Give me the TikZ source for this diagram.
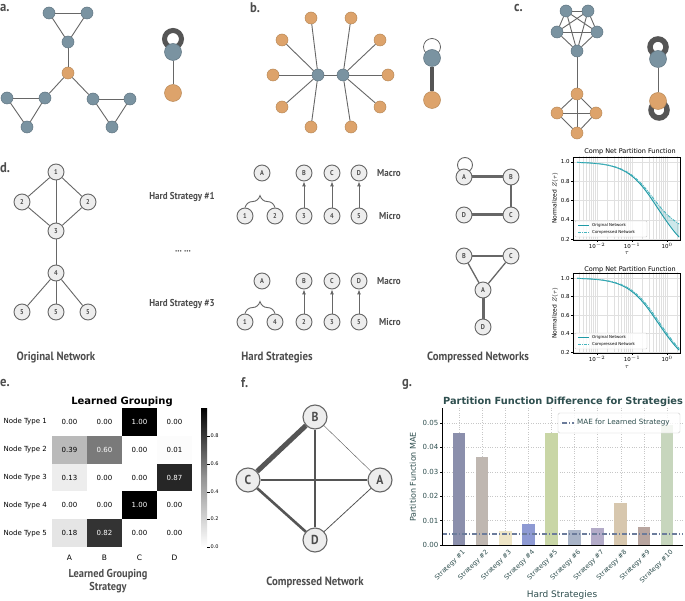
\documentclass[tikz,border=0pt]{standalone}
\usepackage{fontspec}
\setmainfont{DejaVu Sans}
\newfontfamily\dinfont[FakeStretch=0.9]{PT Sans}
\usetikzlibrary{arrows.meta,decorations.pathreplacing}

\newcommand\fsz[1]{\fontsize{#1}{#1}\selectfont}

\definecolor{nblue}{HTML}{7A93A1}
\definecolor{nbluedk}{HTML}{5F7481}
\definecolor{norange}{HTML}{DDA36B}
\definecolor{norangedk}{HTML}{B98957}
\definecolor{egrey}{HTML}{676767}
\definecolor{rgrey}{HTML}{555555}
\definecolor{lgrey}{HTML}{EDEDED}
\definecolor{labgrey}{HTML}{4D4D4D}
\definecolor{slate}{HTML}{2F4F4F}
\definecolor{zteal}{HTML}{1F9AA6}
\definecolor{zteallt}{HTML}{45B4BE}
\definecolor{maeline}{HTML}{6C7C9B}
\definecolor{gbar1}{HTML}{8B8FAC}
\definecolor{gbar2}{HTML}{BFB7B1}
\definecolor{gbar3}{HTML}{EEE5C6}
\definecolor{gbar4}{HTML}{8E9AD3}
\definecolor{gbar5}{HTML}{C9D6A6}
\definecolor{gbar6}{HTML}{A9B4C7}
\definecolor{gbar7}{HTML}{B3ABC8}
\definecolor{gbar8}{HTML}{D7C7AE}
\definecolor{gbar9}{HTML}{B8A59F}
\definecolor{gbar10}{HTML}{C7D6BD}

\tikzset{
  declare function={
    zo(\s)=0.1*(1+exp(-0.3*\s)+exp(-0.6*\s)+exp(-0.8*\s)+2*exp(-\s)+exp(-1.5*\s)+exp(-3*\s)+exp(-4*\s)+exp(-5*\s));
    zc(\s)=0.25*(1+exp(-0.4*\s)+exp(-2*\s)+exp(-4*\s));
    zd(\s)=zo(0.9*\s);},
  bnode/.style={circle,draw=nbluedk,fill=nblue,line width=0.5pt,minimum size=12pt,inner sep=0pt},
  onode/.style={circle,draw=norangedk,fill=norange,line width=0.5pt,minimum size=12pt,inner sep=0pt},
  big/.style={minimum size=17pt},
  link/.style={draw=egrey,line width=0.9pt},
  ring/.style={draw=rgrey,line width=5pt},
  num/.style={circle,draw=egrey,fill=lgrey,line width=0.9pt,minimum size=16pt,inner sep=0pt,font=\dinfont\fsz{7}\bfseries,text=labgrey},
  bignum/.style={num,minimum size=24pt,line width=1.1pt,font=\dinfont\fsz{13}\bfseries},
  panlab/.style={anchor=west,inner sep=0pt,font=\dinfont\fsz{14}\bfseries,text=labgrey},
  capt/.style={font=\dinfont\fsz{12}\bfseries,text=labgrey},
  hard/.style={font=\dinfont\fsz{10}\bfseries,text=labgrey},
  macmic/.style={anchor=west,inner sep=0pt,font=\dinfont\fsz{10}\bfseries,text=labgrey},
  uparrow/.style={draw=egrey,line width=0.9pt,-{Latex[length=5pt,width=4pt]}},
  brc/.style={draw=egrey,line width=0.9pt,decorate,decoration={brace,amplitude=12pt}},
  pgrid/.style={draw=black!12,line width=0.25pt},
  ggrid/.style={draw=black!22,line width=0.4pt,dotted},
  cell/.style={minimum width=35pt,minimum height=27.8pt,inner sep=0pt,font=\fsz{7}},
}

\begin{document}
\begin{tikzpicture}[x=1pt,y=-1pt]
\useasboundingbox (0,0) rectangle (685,601);
\fill[white] (0,0) rectangle (685,601);

\node[panlab] (la) at (0,8) {a.};
\foreach \n/\x/\y in {t1/49/13,t2/87/13,t3/68/42,l1/7/98,l2/45/98,l3/27/127,r1/93/99,r2/130/99,r3/112/127}
	\node[bnode] (a\n) at (\x,\y) {};
\node[onode] (ac) at (68,73) {};
\foreach \p/\q in {t1/t2,t2/t3,t3/t1,l1/l2,l2/l3,l3/l1,r1/r2,r2/r3,r3/r1,t3/c,l2/c,r1/c}
	\draw[link] (a\p) -- (a\q);
\draw[ring] (173,39) circle (8.5);
\node[bnode,big] (aB) at (173,52) {};
\node[onode,big] (aO) at (173,93) {};
\draw[link] (aB) -- (aO);

\node[panlab] (lb) at (250,8) {b.};
\node[bnode] (h1) at (318,75) {};
\node[bnode] (h2) at (343,75) {};
\foreach \n/\x/\y in {1/311/18,2/282/40,3/273/75,4/282/107,5/311/127}
	{\node[onode] (bl\n) at (\x,\y) {}; \draw[link] (h1) -- (bl\n);}
\foreach \n/\x/\y in {1/351/18,2/380/40,3/388/75,4/380/107,5/351/127}
	{\node[onode] (br\n) at (\x,\y) {}; \draw[link] (h2) -- (br\n);}
\draw[link] (h1) -- (h2);
\draw[draw=rgrey,line width=0.7pt] (432,47) circle (8.5);
\node[bnode,big] (bB) at (432,58) {};
\node[onode,big] (bO) at (432,100) {};
\draw[link,draw=rgrey,line width=4pt] (bB) -- (bO);

\node[panlab] (lc) at (514,8) {c.};
\foreach \n/\x/\y in {1/566/11,2/588/11,3/597/32,4/577/51,5/557/32}
	\node[bnode] (c\n) at (\x,\y) {};
\foreach \n/\x/\y in {1/577/94,2/557/113,3/596/113,4/577/133}
	\node[onode] (k\n) at (\x,\y) {};
\foreach \i/\j in {1/2,1/3,1/4,1/5,2/3,2/4,2/5,3/4,3/5,4/5}
	\draw[link] (c\i) -- (c\j);
\foreach \i/\j in {1/2,1/3,1/4,2/3,2/4,3/4}
	\draw[link] (k\i) -- (k\j);
\draw[link] (c4) -- (k1);
\draw[ring,line width=5.5pt] (658,47) circle (8);
\draw[ring,line width=5.5pt] (659,110) circle (8);
\node[bnode,big] (cB) at (658,59) {};
\node[onode,big] (cO) at (658,101) {};
\draw[link] (cB) -- (cO);

\node[panlab] (ld) at (0,168) {d.};
\foreach \n/\x/\y/\lbl in {1/56/172/1,2a/22/202/2,2b/88/202/2,3/56/231/3,4/56/273/4,5a/22/312/5,5b/56/312/5,5c/88/312/5}
	\node[num] (o\n) at (\x,\y) {\lbl};
\foreach \p/\q in {1/2a,1/2b,1/3,2a/3,2b/3,3/4,4/5a,4/5b,4/5c}
	\draw[link] (o\p) -- (o\q);
\node[capt] (tOrig) at (56,357) {Original Network};
\node[hard] (tH1) at (182,197) {Hard Strategy \#1};
\node[hard] (tDots) at (183,253) {··· ···};
\node[hard] (tH3) at (182,304) {Hard Strategy \#3};

\foreach \r/\ya/\yb/\la/\lb/\lc/\ld/\le in {1/173/216/1/2/3/4/5,3/281/322/1/4/2/3/5}{
	\foreach \m/\x in {A/262,B/304,C/332,D/359}
		\node[num] (s\r\m) at (\x,\ya) {\m};
	\foreach \k/\x/\lbl in {1/245/\la,2/275/\lb,3/304/\lc,4/332/\ld,5/359/\le}
		\node[num] (s\r-\k) at (\x,\yb) {\lbl};
	\node[macmic] (s\r-mac) at (377,\ya) {Macro};
	\node[macmic] (s\r-mic) at (379,\yb) {Micro};
	\foreach \k/\m in {3/B,4/C,5/D}
		\draw[uparrow] (s\r-\k) -- (s\r\m);
	\draw[brc] (s\r-1.north) -- (s\r-2.north);
}
\node[capt] (tHard) at (277,357) {Hard Strategies};

\draw[link] (465,165) circle (7.5);
\foreach \m/\x/\y in {A/464/177,B/511/177,C/511/215,D/464/215}
	\node[num] (ct\m) at (\x,\y) {\m};
\draw[link,line width=3pt] (ctA) -- (ctB);
\draw[link,line width=1.3pt] (ctB) -- (ctC);
\draw[link,line width=3pt] (ctD) -- (ctC);
\foreach \m/\x/\y in {B/464/256,C/511/256,A/483/290,D/483/327}
	\node[num] (cb\m) at (\x,\y) {\m};
\draw[link,line width=1.3pt] (cbB) -- (cbC);
\draw[link,line width=1.3pt] (cbB) -- (cbA);
\draw[link,line width=1.3pt] (cbC) -- (cbA);
\draw[link,line width=3pt] (cbA) -- (cbD);
\node[capt] (tComp) at (478,357) {Compressed Networks};

\foreach \pn/\ty/\oy/\uy/\fc/\lgy/\ylc/\tauy in {1/152/258.25/96.25/zc/221/198/253,2/270/370.5/92.5/zd/333/313/367}{
	\node[font=\fsz{6.5}] (ptitle\pn) at (630,\ty) {Comp Net Partition Function};
	\begin{scope}[shift={(667,\oy)},x=35pt,y=\uy pt]
		\begin{scope}
			\clip (-2.69,0.19) rectangle (0.37,1.055);
			\foreach \d in {-3,...,0}
				\foreach \k in {1,...,9}
					\draw[pgrid] ({\d+log10(\k)},0) -- ({\d+log10(\k)},1.1);
			\foreach \v in {0.2,0.4,0.6,0.8,1.0}
				\draw[pgrid] (-3,\v) -- (1,\v);
			\fill[zteal,opacity=0.22] plot[domain=-2.57:0.35,samples=50] (\x,{\fc(pow(10,\x))}) -- plot[domain=0.35:-2.57,samples=50] (\x,{zo(pow(10,\x))}) -- cycle;
			\draw[zteal,line width=0.9pt] plot[domain=-2.57:0.35,samples=60] (\x,{zo(pow(10,\x))});
			\draw[zteallt,line width=0.9pt,dash pattern=on 3pt off 1.2pt on 0.8pt off 1.2pt] plot[domain=-2.57:0.35,samples=60] (\x,{\fc(pow(10,\x))});
		\end{scope}
		\draw[line width=0.4pt] (-2.69,0.19) rectangle (0.37,1.055);
		\foreach \v [count=\i] in {0.2,0.4,0.6,0.8,1.0}
			{\draw (-2.69,\v) -- (-2.75,\v); \node[anchor=east,font=\fsz{5.5},inner sep=1pt] (pyt\pn\i) at (-2.75,\v) {\v};}
		\foreach \d [count=\i] in {-2,-1,0}
			{\draw (\d,0.19) -- (\d,0.17); \node[anchor=north,font=\fsz{5.5},inner sep=1pt] (pxt\pn\i) at (\d,0.17) {10$^{\d}$};}
	\end{scope}
	\node[rotate=90,font=\fsz{6}] (pyl\pn) at (555,\ylc) {Normalized $Z(\tau)$};
	\node[font=\fsz{6}] (pxl\pn) at (627,\tauy) {$\tau$};
	\draw[rounded corners=1pt,draw=black!20,fill=white,fill opacity=0.8] (575,\lgy) rectangle (647,{\lgy+16});
	\draw[zteal,line width=0.9pt] (578,{\lgy+4.5}) -- (589,{\lgy+4.5});
	\draw[zteallt,line width=0.9pt,dash pattern=on 3pt off 1.2pt on 0.8pt off 1.2pt] (578,{\lgy+11.5}) -- (589,{\lgy+11.5});
	\node[anchor=west,font=\fsz{4},inner sep=0pt] (plo\pn) at (592,{\lgy+4.5}) {Original Network};
	\node[anchor=west,font=\fsz{4},inner sep=0pt] (plc\pn) at (592,{\lgy+11.5}) {Compressed Network};
}

\node[panlab] (le) at (0,383) {e.};
\node[font=\fsz{10}\bfseries] (hmt) at (122,402) {Learned Grouping};
\foreach \r/\c/\v/\p/\tc in {1/1/0.00/0/black,1/2/0.00/0/black,1/3/1.00/100/white,1/4/0.00/0/black,
	2/1/0.39/27/black,2/2/0.60/52/white,2/3/0.00/0/black,2/4/0.01/1/black,
	3/1/0.13/7/black,3/2/0.00/0/black,3/3/0.00/0/black,3/4/0.87/85/white,
	4/1/0.00/0/black,4/2/0.00/0/black,4/3/1.00/100/white,4/4/0.00/0/black,
	5/1/0.18/10/black,5/2/0.82/80/white,5/3/0.00/0/black,5/4/0.00/0/black}
	\node[cell,fill=black!\p,text=\tc] (hm\r\c) at ({52+35*(\c-0.5)},{408+27.8*(\r-0.5)}) {\v};
\foreach \r in {1,...,5}
	\node[anchor=east,font=\fsz{7},inner sep=1pt] (rl\r) at (48,{408+27.8*(\r-0.5)}) {Node Type \r};
\foreach \c/\m in {1/A,2/B,3/C,4/D}
	\node[font=\fsz{7.5}] (cl\c) at ({52+35*(\c-0.5)},558) {\m};
\node[font=\dinfont\fontsize{11.5}{13}\selectfont\bfseries,text=labgrey,align=center] (hmx) at (108,581) {Learned Grouping\\Strategy};
\shade[top color=black,bottom color=white,middle color=black!42] (201,408) rectangle (207,547);
\foreach \v/\y [count=\i] in {0.0/547,0.2/519,0.4/492,0.6/464,0.8/436}
	{\draw[line width=0.4pt] (207,\y) -- (209.5,\y); \node[anchor=west,font=\fsz{5},inner sep=1pt] (cbar\i) at (209.5,\y) {\v};}

\node[panlab] (lf) at (241,383) {f.};
\node[bignum] (fB) at (315,417) {B};
\node[bignum] (fC) at (248,480) {C};
\node[bignum] (fA) at (380,480) {A};
\node[bignum] (fD) at (315,540) {D};
\draw[link,draw=rgrey,line width=5pt] (fB) -- (fC);
\draw[link,draw=rgrey,line width=2.2pt] (fC) -- (fA);
\draw[link,draw=rgrey,line width=2.2pt] (fB) -- (fD);
\draw[link,draw=rgrey,line width=2.6pt] (fC) -- (fD);
\draw[link,draw=rgrey,line width=0.4pt] (fB) -- (fA);
\draw[link,draw=rgrey,line width=0.8pt] (fA) -- (fD);
\node[capt] (tCompF) at (315,582) {Compressed Network};

\node[panlab] (lg) at (402,384) {g.};
\node[font=\fsz{9.8}\bfseries,text=slate] (gt) at (563,402) {Partition Function Difference for Strategies};
\begin{scope}[shift={(442,545)},y=24.4pt]
	\foreach \v in {1,...,5}
		\draw[ggrid] (0,\v) -- (241,\v);
	\foreach \i in {1,...,10}
		\draw[ggrid] ({17+23.1*(\i-1)},0) -- ({17+23.1*(\i-1)},5.61);
	\foreach \i/\h in {1/4.6,2/3.6,3/0.58,4/0.87,5/4.6,6/0.62,7/0.68,8/1.72,9/0.72,10/4.9}
		\fill[gbar\i] ({17+23.1*(\i-1)-6.3},0) rectangle ({17+23.1*(\i-1)+6.3},\h);
	\draw[maeline,line width=1.3pt,dash pattern=on 5pt off 2pt on 1pt off 2pt] (0,0.45) -- (241,0.45);
	\draw[line width=0.6pt] (0,5.61) -- (0,0) -- (241,0);
	\foreach \v [count=\i] in {0.00,0.01,0.02,0.03,0.04,0.05}
		{\draw[line width=0.5pt] (0,{\i-1}) -- (-2.5,{\i-1}); \node[anchor=east,font=\fsz{7},text=slate,inner sep=1pt] (gy\i) at (-2.5,{\i-1}) {\v};}
	\foreach \i in {1,...,10}
		\node[rotate=45,anchor=north east,font=\fsz{6.5},text=slate,inner sep=1pt] (gx\i) at ({17+23.1*(\i-1)+3},-0.1) {Strategy \#\i};
\end{scope}
\node[rotate=90,font=\fsz{8},text=slate] (gyl) at (413,477) {Partition Function MAE};
\node[font=\fsz{9},text=slate] (gxl) at (562,595) {Hard Strategies};
\draw[rounded corners=1.5pt,draw=black!20,fill=white,fill opacity=0.8] (558,413) rectangle (680,433);
\draw[maeline,line width=1.2pt,dash pattern=on 5pt off 2pt on 1pt off 2pt] (562,423) -- (574,423);
\node[anchor=west,font=\fsz{7.2},text=slate,inner sep=0pt] (glg) at (577,423) {MAE for Learned Strategy};
\end{tikzpicture}
\end{document}
